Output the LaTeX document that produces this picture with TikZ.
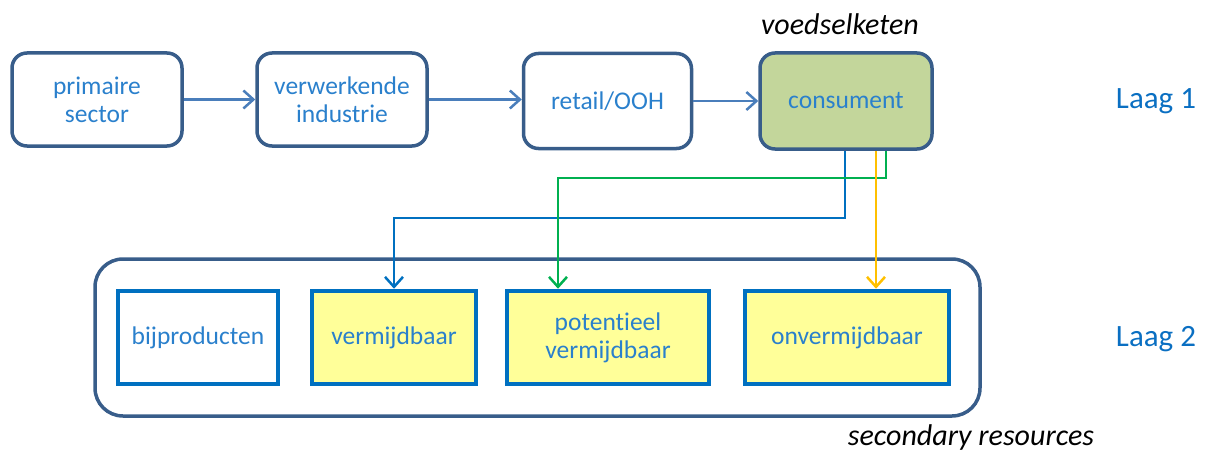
\documentclass[tikz,border=0pt]{standalone}
\usepackage{fontspec}
\setmainfont[Ligatures={NoCommon}]{Carlito}
\usetikzlibrary{arrows.meta,calc}
\definecolor{topborder}{HTML}{385D8A}
\definecolor{toparrow}{HTML}{4A7EBB}
\definecolor{boxtext}{HTML}{2A80CC}
\definecolor{laagtext}{HTML}{0A6FC2}
\definecolor{innerborder}{HTML}{0070C0}
\definecolor{innerfill}{HTML}{FFFF99}
\definecolor{consfill}{HTML}{C3D69B}
\definecolor{greenline}{HTML}{00B050}
\definecolor{yellowline}{HTML}{FFC000}
\definecolor{blueline}{HTML}{0070C0}
\tikzset{
  topbox/.style={draw=topborder, line width=3.5pt, rounded corners=15pt, minimum height=93pt,
    align=center, text=boxtext, font=\fontsize{25.5}{28}\selectfont, inner sep=2pt},
  innerbox/.style={draw=innerborder, line width=4.5pt, minimum height=93pt,
    align=center, text=boxtext, font=\fontsize{25.5}{28}\selectfont, inner sep=2pt},
  flow/.style={draw=toparrow, line width=2.5pt, -{Straight Barb[length=10pt,width=18pt,line width=2.5pt]}},
  drop/.style={line width=2.5pt, -{Straight Barb[length=10pt,width=18pt,line width=2.5pt]}},
  laag/.style={text=laagtext, font=\fontsize{31}{34}\selectfont},
  caption/.style={text=black, font=\fontsize{30}{33}\selectfont\itshape}
}
\begin{document}
\begin{tikzpicture}[x=1pt,y=-1pt]
\useasboundingbox (0,0) rectangle (1208,452);
% big container
\node[draw=topborder, line width=3.5pt, rounded corners=28pt, minimum width=885pt, minimum height=157pt] (layer2) at (537.5,337.5) {};
% top row
\node[topbox, minimum width=170pt] (prim) at (97,99.5) {primaire\\sector};
\node[topbox, minimum width=170pt] (verw) at (342,99.5) {verwerkende\\industrie};
\node[topbox, minimum width=168pt, minimum height=95pt] (retail) at (607.5,101) {retail/OOH};
\node[topbox, fill=consfill, minimum width=172pt, minimum height=96pt] (cons) at (846,101) {consument};
% inner boxes
\node[innerbox, minimum width=160pt] (bij) at (198,337.5) {bijproducten};
\node[innerbox, fill=innerfill, minimum width=164pt] (verm) at (394,337.5) {vermijdbaar};
\node[innerbox, fill=innerfill, minimum width=202pt] (pot) at (608,337.5) {potent\kern0pt ieel\\vermijdbaar};
\node[innerbox, fill=innerfill, minimum width=204pt] (onv) at (847,337.5) {onvermijdbaar};
% labels
\node[caption] (voedsel) at (840,24) {voedselketen};
\node[caption] (secres) at (971,437) {secondary resources};
\node[laag] (laag1) at (1156,101) {Laag 1};
\node[laag] (laag2) at (1156,339) {Laag 2};
% top flow
\draw[flow] (prim.east) -- (verw.west);
\draw[flow] (verw.east) -- (retail.west |- verw.east);
\draw[flow] (retail.east) -- (cons.west |- retail.east);
% drops
\coordinate (bx) at (845,0);
\coordinate (gx) at (886,0);
\coordinate (yx) at (876,0);
\coordinate (bturn) at (394,218);
\coordinate (gturn) at (558,178);
\draw[drop, draw=blueline] (cons.south -| bx) |- (bturn) -- (verm.north -| bturn);
\draw[drop, draw=greenline] (cons.south -| gx) |- (gturn) -- (pot.north -| gturn);
\draw[drop, draw=yellowline, line width=1.8pt] (cons.south -| yx) -- (onv.north -| yx);
\end{tikzpicture}
\end{document}
